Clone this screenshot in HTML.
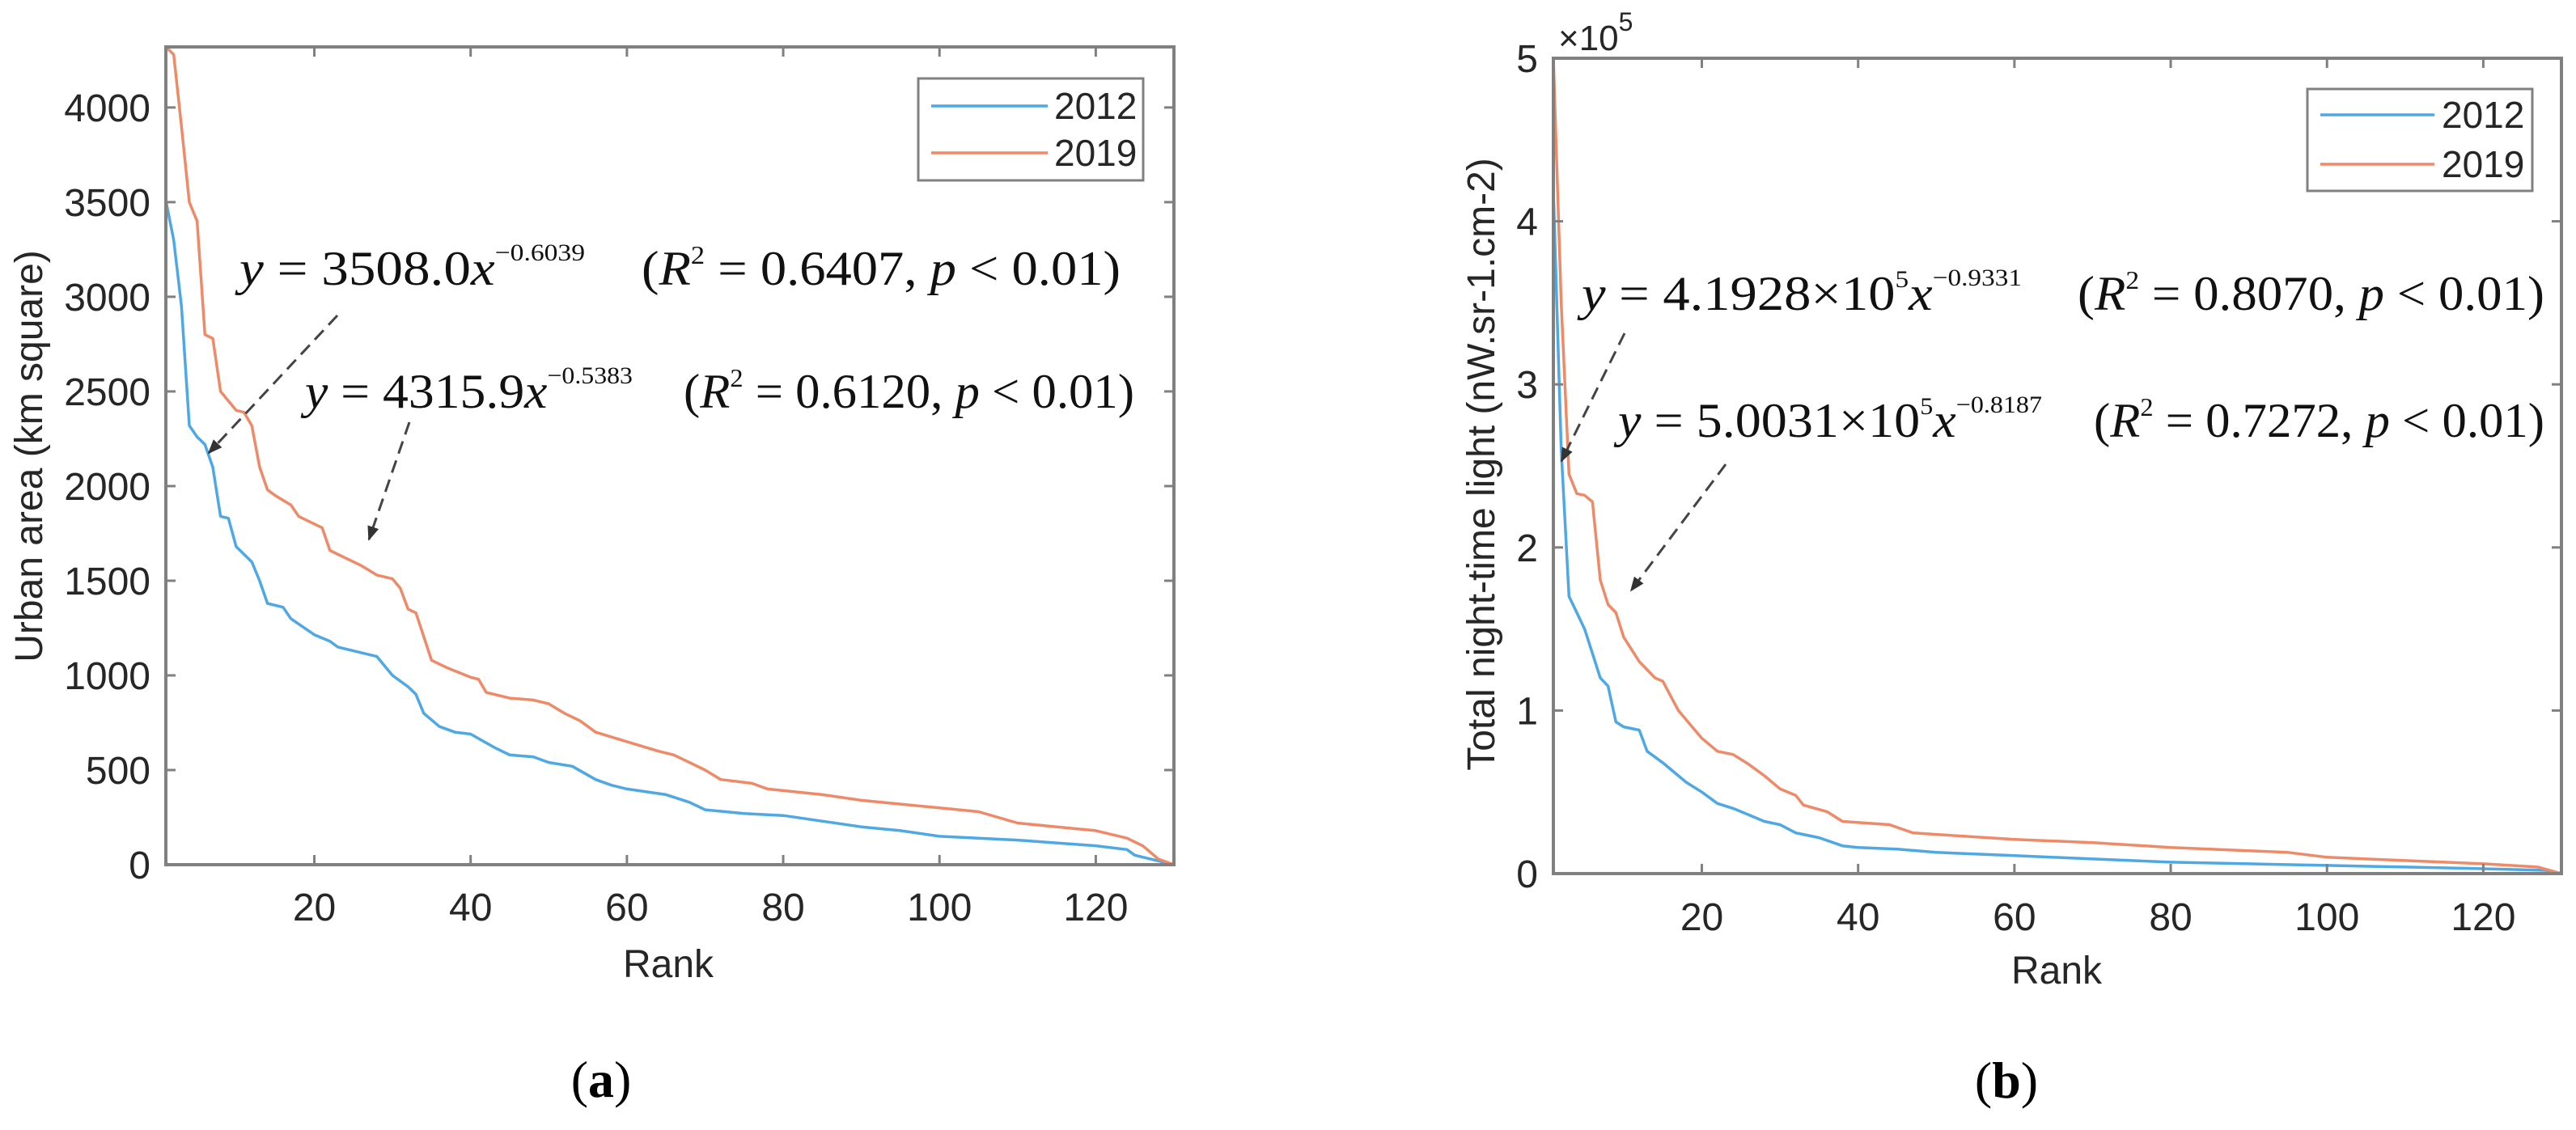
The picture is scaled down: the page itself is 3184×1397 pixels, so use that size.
<!DOCTYPE html>
<html><head><meta charset="utf-8"><style>
html,body{margin:0;padding:0;background:#fff}
svg{display:block}
.tk{font-family:"Liberation Sans",sans-serif;font-size:48px;fill:#262626}
.eq{font-family:"Liberation Serif",serif;font-size:60px;fill:#111}
</style></head><body>
<svg id="svg" width="3184" height="1397" viewBox="0 0 3184 1397" xmlns="http://www.w3.org/2000/svg">
<defs><marker id="ah" viewBox="0 0 10 10" refX="9" refY="5" markerWidth="6" markerHeight="6" orient="auto"><path d="M0,1 L10,5 L0,9 z" fill="#333"/></marker></defs>
<g id="pa"></g>
<g id="pb"></g>
</svg>
<script>
const ranksA=[1,2,3,4,5,6,7,8,9,10,12,13,14,16,17,20,22,23,26,28,30,32,33,34,36,38,40,43,45,48,50,53,56,58,60,65,68,70,75,80,85,90,95,100,105,110,115,120,124,125,128,130];
const area2012=[3508,3300,2950,2320,2260,2220,2100,1840,1830,1680,1600,1500,1380,1360,1300,1215,1180,1150,1120,1100,1000,940,900,800,730,700,690,620,580,570,540,520,450,420,400,370,330,290,270,260,230,200,180,150,140,130,115,100,80,50,20,0];
const ranksA19=[1,2,3,4,5,6,7,8,9,10,11,12,13,14,15,17,18,20,21,22,24,26,28,30,31,32,33,35,37,40,41,42,45,48,50,52,54,56,60,64,66,68,70,72,76,78,85,90,95,100,105,110,115,120,124,126,128,130];
const area2019=[4320,4280,3900,3500,3400,2800,2780,2500,2450,2400,2390,2320,2100,1980,1950,1900,1840,1800,1780,1660,1620,1580,1530,1510,1460,1350,1330,1080,1040,990,980,910,880,870,850,800,760,700,650,600,580,540,500,450,430,400,370,340,320,300,280,220,200,180,140,100,30,0];
const ranksB12=[1,2,3,4,5,6,7,8,9,10,12,13,15,17,18,20,22,24,26,28,30,32,35,38,40,45,50,60,70,80,90,100,110,120,128,130];
const ntl2012=[4.19,2.6,1.7,1.6,1.5,1.35,1.2,1.15,0.93,0.9,0.88,0.75,0.68,0.6,0.56,0.5,0.43,0.4,0.36,0.32,0.3,0.25,0.22,0.17,0.16,0.15,0.13,0.11,0.09,0.07,0.06,0.05,0.04,0.03,0.02,0];
const ranksB19=[1,2,3,4,5,6,7,8,9,10,12,14,15,17,20,22,24,26,28,30,32,33,36,38,44,47,50,60,70,80,90,95,100,110,120,127,130];
const ntl2019=[5.0,3.5,2.45,2.33,2.32,2.28,1.8,1.65,1.6,1.45,1.3,1.2,1.18,1.0,0.83,0.75,0.73,0.67,0.6,0.52,0.48,0.42,0.38,0.32,0.3,0.25,0.24,0.21,0.19,0.16,0.14,0.13,0.1,0.08,0.06,0.04,0];
const xTicks=[20,40,60,80,100,120];
const yTicksA=[0,500,1000,1500,2000,2500,3000,3500,4000];
const yTicksB=[0,1,2,3,4,5];
const NS="http://www.w3.org/2000/svg";
function el(p,tag,at,txt){const e=document.createElementNS(NS,tag);for(const k in at)e.setAttribute(k,at[k]);if(txt!==undefined)e.textContent=txt;p.appendChild(e);return e;}
function panel(g,box,ymax,yTicks,series,opt){
  const sx=v=>box.l+(v-1)/(129)*(box.r-box.l);
  const sy=v=>box.b-v/ymax*(box.b-box.t);
  series.forEach(s=>{
    const d=s.x.map((v,i)=>(i?'L':'M')+sx(v).toFixed(1)+','+sy(s.y[i]).toFixed(1)).join(' ');
    const p=el(g,'path',{d:d,fill:'none',stroke:s.c,'stroke-width':3.5,'stroke-linejoin':'round'});
    
    
  });
  const ax=el(g,'rect',{x:box.l,y:box.t,width:box.r-box.l,height:box.b-box.t,fill:'none',stroke:'#808080','stroke-width':4});
  
  
  xTicks.forEach(v=>{
    const x=sx(v);
    el(g,'line',{x1:x,y1:box.b,x2:x,y2:box.b-12,stroke:'#808080','stroke-width':3});
    el(g,'line',{x1:x,y1:box.t,x2:x,y2:box.t+12,stroke:'#808080','stroke-width':3});
    const t=el(g,'text',{x:x,y:opt.xty,'text-anchor':'middle',class:'tk'},v);
    
    
  });
  yTicks.forEach(v=>{
    const y=sy(v);
    el(g,'line',{x1:box.l,y1:y,x2:box.l+12,y2:y,stroke:'#808080','stroke-width':3});
    el(g,'line',{x1:box.r,y1:y,x2:box.r-12,y2:y,stroke:'#808080','stroke-width':3});
    const t=el(g,'text',{x:opt.ytx,y:y+17,'text-anchor':'end',class:'tk'},v);
    
    
  });
}
const pa=document.getElementById('pa'),pb=document.getElementById('pb');
panel(pa,{l:205,r:1451,t:58,b:1069},4320,yTicksA,[{x:ranksA,y:area2012,c:'#4DA8E3',n:'2012'},{x:ranksA19,y:area2019,c:'#EE8A68',n:'2019'}],{xty:1138,ytx:186});
panel(pb,{l:1920,r:3166,t:72,b:1080},5,yTicksB,[{x:ranksB12,y:ntl2012,c:'#4DA8E3',n:'2012'},{x:ranksB19,y:ntl2019,c:'#EE8A68',n:'2019'}],{xty:1150,ytx:1901});
</script>
<script>
(function(){
const s=document.getElementById('svg');
s.insertAdjacentHTML('beforeend',`
<g>
<text class="tk" transform="translate(52,564) rotate(-90)" text-anchor="middle">Urban area (km square)</text>
<text class="tk" x="826" y="1208" text-anchor="middle">Rank</text>
<text x="743" y="1356" text-anchor="middle" style="font-family:'Liberation Serif',serif;font-size:64px">(<tspan font-weight="bold">a</tspan>)</text>
<g>
<rect x="1135" y="97" width="278" height="126" fill="#fff" stroke="#808080" stroke-width="3"/>
<line x1="1151" y1="131" x2="1295" y2="131" stroke="#4DA8E3" stroke-width="3.5"/>
<line x1="1151" y1="189" x2="1295" y2="189" stroke="#EE8A68" stroke-width="3.5"/>
<text class="tk" x="1303" y="147" style="font-size:46px">2012</text>
<text class="tk" x="1303" y="205" style="font-size:46px">2019</text>
</g>
<text class="eq" x="296" y="352" textLength="427" lengthAdjust="spacingAndGlyphs"><tspan font-style="italic">y</tspan> = 3508.0<tspan font-style="italic">x</tspan><tspan dy="-30" font-size="30">−0.6039</tspan></text>
<text class="eq" x="793" y="352" textLength="592" lengthAdjust="spacingAndGlyphs">(<tspan font-style="italic">R</tspan><tspan dy="-26" font-size="32">2</tspan><tspan dy="26"> = 0.6407, </tspan><tspan font-style="italic">p</tspan> &lt; 0.01)</text>
<text class="eq" x="377" y="504" textLength="405" lengthAdjust="spacingAndGlyphs"><tspan font-style="italic">y</tspan> = 4315.9<tspan font-style="italic">x</tspan><tspan dy="-30" font-size="30">−0.5383</tspan></text>
<text class="eq" x="845" y="504" textLength="557" lengthAdjust="spacingAndGlyphs">(<tspan font-style="italic">R</tspan><tspan dy="-26" font-size="32">2</tspan><tspan dy="26"> = 0.6120, </tspan><tspan font-style="italic">p</tspan> &lt; 0.01)</text>
<line x1="417" y1="390" x2="258" y2="560" stroke="#444" stroke-width="3" stroke-dasharray="16 9" marker-end="url(#ah)"/>
<line x1="506" y1="522" x2="456" y2="667" stroke="#444" stroke-width="3" stroke-dasharray="16 9" marker-end="url(#ah)"/>
</g>
<g>
<text class="tk" x="1926" y="62" style="font-size:44px">×10<tspan dy="-24" font-size="32">5</tspan></text>
<text class="tk" transform="translate(1847,574) rotate(-90)" text-anchor="middle">Total night-time light (nW.sr-1.cm-2)</text>
<text class="tk" x="2542" y="1216" text-anchor="middle">Rank</text>
<text x="2480" y="1357" text-anchor="middle" style="font-family:'Liberation Serif',serif;font-size:64px">(<tspan font-weight="bold">b</tspan>)</text>
<g>
<rect x="2852" y="110" width="278" height="126" fill="#fff" stroke="#808080" stroke-width="3"/>
<line x1="2868" y1="142" x2="3009" y2="142" stroke="#4DA8E3" stroke-width="3.5"/>
<line x1="2868" y1="203" x2="3009" y2="203" stroke="#EE8A68" stroke-width="3.5"/>
<text class="tk" x="3018" y="158" style="font-size:46px">2012</text>
<text class="tk" x="3018" y="219" style="font-size:46px">2019</text>
</g>
<text class="eq" x="1955" y="383" textLength="544" lengthAdjust="spacingAndGlyphs"><tspan font-style="italic">y</tspan> = 4.1928×10<tspan dy="-28" font-size="30">5</tspan><tspan dy="28" font-style="italic">x</tspan><tspan dy="-30" font-size="30">−0.9331</tspan></text>
<text class="eq" x="2568" y="383" textLength="577" lengthAdjust="spacingAndGlyphs">(<tspan font-style="italic">R</tspan><tspan dy="-26" font-size="32">2</tspan><tspan dy="26"> = 0.8070, </tspan><tspan font-style="italic">p</tspan> &lt; 0.01)</text>
<text class="eq" x="2000" y="540" textLength="524" lengthAdjust="spacingAndGlyphs"><tspan font-style="italic">y</tspan> = 5.0031×10<tspan dy="-28" font-size="30">5</tspan><tspan dy="28" font-style="italic">x</tspan><tspan dy="-30" font-size="30">−0.8187</tspan></text>
<text class="eq" x="2588" y="540" textLength="557" lengthAdjust="spacingAndGlyphs">(<tspan font-style="italic">R</tspan><tspan dy="-26" font-size="32">2</tspan><tspan dy="26"> = 0.7272, </tspan><tspan font-style="italic">p</tspan> &lt; 0.01)</text>
<line x1="2008" y1="412" x2="1930" y2="570" stroke="#444" stroke-width="3" stroke-dasharray="16 9" marker-end="url(#ah)"/>
<line x1="2133" y1="574" x2="2016" y2="730" stroke="#444" stroke-width="3" stroke-dasharray="16 9" marker-end="url(#ah)"/>
</g>`);
})();
</script>
</body></html>
